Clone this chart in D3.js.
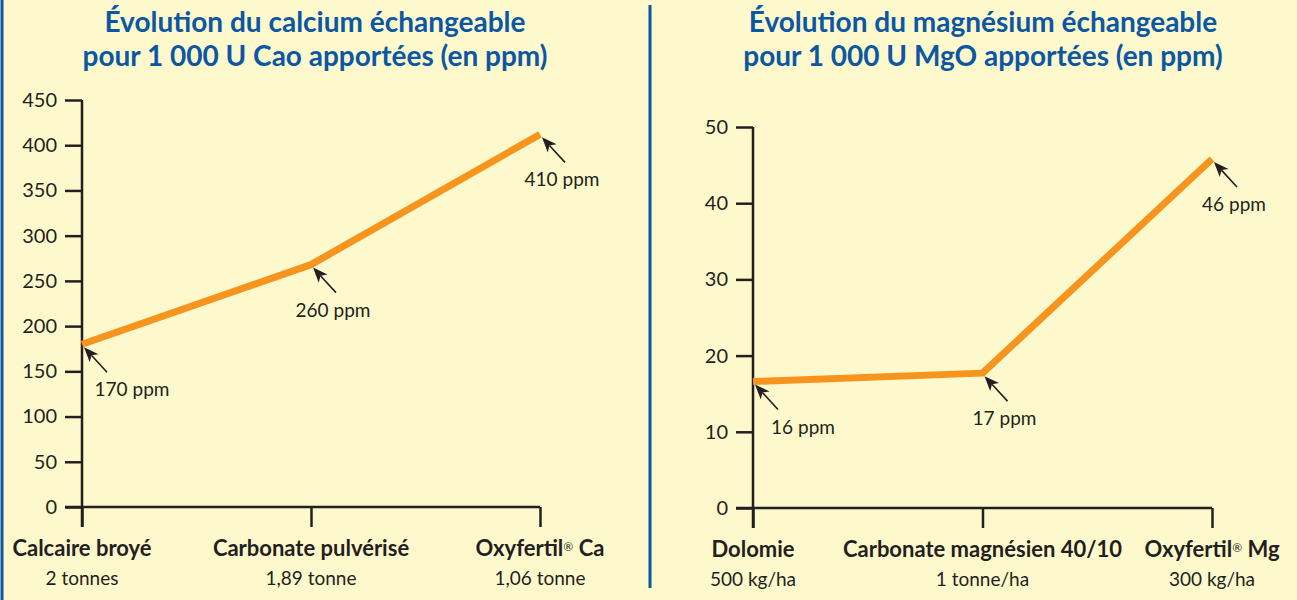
<!DOCTYPE html>
<html>
<head>
<meta charset="utf-8">
<script src="https://cdn.jsdelivr.net/npm/d3@7.9.0/dist/d3.min.js"></script>
<style>
  html, body { margin: 0; padding: 0; background: #fef9cc; }
  svg { display: block; }
  .tick text { font-family: Lato, "Open Sans", sans-serif; font-size: 20px; fill: #231f20; }
</style>
</head>
<body>
<svg id="chart" width="1297" height="600"></svg>
<script>
// calcium panel
const caTitle = ['Évolution du calcium échangeable', 'pour 1 000 U Cao apportées (en ppm)'];
const caProducts = ['Calcaire broyé', 'Carbonate pulvérisé', 'Oxyfertil® Ca'];
const caDoses = ['2 tonnes', '1,89 tonne', '1,06 tonne'];
const caValues = [180, 268, 412];
const caLabels = ['170 ppm', '260 ppm', '410 ppm'];
const caTicks = [0, 50, 100, 150, 200, 250, 300, 350, 400, 450];

// magnesium panel
const mgTitle = ['Évolution du magnésium échangeable', 'pour 1 000 U MgO apportées (en ppm)'];
const mgProducts = ['Dolomie', 'Carbonate magnésien 40/10', 'Oxyfertil® Mg'];
const mgDoses = ['500 kg/ha', '1 tonne/ha', '300 kg/ha'];
const mgValues = [16.6, 17.7, 45.8];
const mgLabels = ['16 ppm', '17 ppm', '46 ppm'];
const mgTicks = [0, 10, 20, 30, 40, 50];

const blue = '#0b57a4';
const ink = '#231f20';
const orange = '#f7941d';
const font = 'Lato, "Open Sans", sans-serif';

const svg = d3.select('#chart');

// frame lines
svg.append('rect').attr('x', 0).attr('y', 0).attr('width', 1297).attr('height', 600).attr('fill', '#fef9cc');
svg.append('line').attr('x1', 2).attr('x2', 2).attr('y1', 0).attr('y2', 600)
  .attr('stroke', blue).attr('stroke-width', 3);
svg.append('line').attr('x1', 650).attr('x2', 650).attr('y1', 5).attr('y2', 588)
  .attr('stroke', blue).attr('stroke-width', 3);

function drawPanel(p) {
  const g = svg.append('g');
  const x = d3.scalePoint(p.products, p.xRange);
  const y = d3.scaleLinear([0, p.ticks[p.ticks.length - 1]], p.yRange);

  // title
  const title = g.append('text')
    .attr('x', p.titleX).attr('y', 32)
    .attr('text-anchor', 'middle')
    .attr('font-family', font).attr('font-weight', 700).attr('font-size', 28)
    .attr('fill', blue);
  p.title.forEach((t, i) => {
    title.append('tspan').attr('x', p.titleX).attr('dy', i === 0 ? 0 : 34).text(t);
  });

  // y axis
  const yAxis = g.append('g')
    .attr('transform', `translate(${p.xRange[0]},0)`)
    .call(d3.axisLeft(y).tickValues(p.ticks).tickSize(17).tickSizeOuter(0).tickPadding(8));
  yAxis.select('.domain').remove();
  yAxis.selectAll('.tick line').attr('stroke', ink).attr('stroke-width', 2.5);

  // x axis
  const xAxis = g.append('g')
    .attr('transform', `translate(0,${y(0)})`)
    .call(d3.axisBottom(x).tickSize(20).tickSizeOuter(0).tickFormat(''));
  xAxis.select('.domain').remove();
  xAxis.selectAll('.tick line').attr('stroke', ink).attr('stroke-width', 2.5);

  // axis lines
  g.append('line')
    .attr('x1', p.xRange[0]).attr('x2', p.xRange[0])
    .attr('y1', y(p.ticks[p.ticks.length - 1])).attr('y2', y(0) + 20)
    .attr('stroke', ink).attr('stroke-width', 2.5);
  g.append('line')
    .attr('x1', p.xRange[0] - 17).attr('x2', p.xRange[1])
    .attr('y1', y(0)).attr('y2', y(0))
    .attr('stroke', ink).attr('stroke-width', 2.5);

  // category labels
  p.products.forEach((name, i) => {
    const t = g.append('text')
      .attr('x', x(name)).attr('y', y(0) + 49)
      .attr('text-anchor', 'middle')
      .attr('font-family', font).attr('font-weight', 700).attr('font-size', 22)
      .attr('fill', ink);
    if (name.includes('®')) {
      const parts = name.split('®');
      t.append('tspan').text(parts[0]);
      t.append('tspan').attr('font-size', 12).attr('font-weight', 400).attr('baseline-shift', '45%').text('®');
      t.append('tspan').text(parts[1]);
    } else {
      t.text(name);
    }
    g.append('text')
      .attr('x', x(name)).attr('y', y(0) + 78)
      .attr('text-anchor', 'middle')
      .attr('font-family', font).attr('font-size', 19)
      .attr('fill', ink)
      .text(p.doses[i]);
  });

  // line
  const line = d3.line().x((d, i) => x(p.products[i])).y(d => y(d));
  g.append('path')
    .datum(p.values)
    .attr('d', line)
    .attr('fill', 'none')
    .attr('stroke', orange)
    .attr('stroke-width', 7)
    .attr('stroke-linejoin', 'round');

  // arrows + labels
  p.values.forEach((v, i) => {
    const px = x(p.products[i]) + 2, py = y(v) + 3;
    const tx = px + 23, ty = py + 25;
    const ang = Math.atan2(ty - py, tx - px);
    const L = 15, W = 6;
    const bx = px + L * Math.cos(ang), by = py + L * Math.sin(ang);
    const nx = -Math.sin(ang) * W, ny = Math.cos(ang) * W;
    const cx = px + (L - 4) * Math.cos(ang), cy = py + (L - 4) * Math.sin(ang);
    g.append('line')
      .attr('x1', cx).attr('y1', cy).attr('x2', tx).attr('y2', ty)
      .attr('stroke', ink).attr('stroke-width', 1.6);
    g.append('path')
      .attr('d', `M${px},${py}L${bx + nx},${by + ny}L${cx},${cy}L${bx - nx},${by - ny}Z`)
      .attr('fill', ink);
    g.append('text')
      .attr('x', x(p.products[i]) + (i === 0 ? 50 : 22))
      .attr('y', y(v) + 52)
      .attr('text-anchor', 'middle')
      .attr('font-family', font).attr('font-size', 19)
      .attr('fill', ink)
      .text(p.labels[i]);
  });
}

drawPanel({
  title: caTitle, products: caProducts, doses: caDoses, values: caValues,
  labels: caLabels, ticks: caTicks, xRange: [82, 540], yRange: [507, 100], titleX: 315
});
drawPanel({
  title: mgTitle, products: mgProducts, doses: mgDoses, values: mgValues,
  labels: mgLabels, ticks: mgTicks, xRange: [753, 1212], yRange: [508, 127], titleX: 983
});
</script>
</body>
</html>
